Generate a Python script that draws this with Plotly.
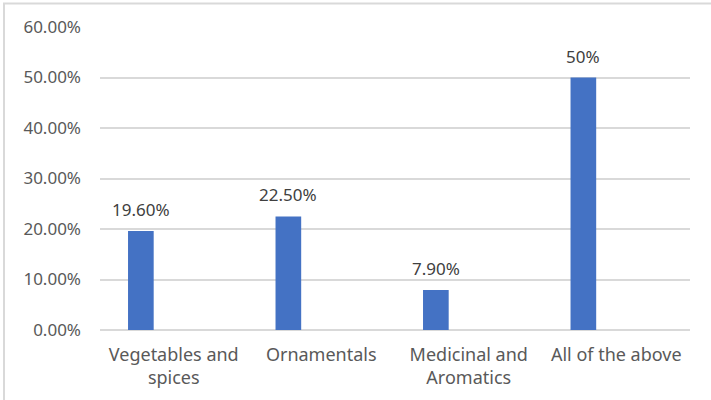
import plotly.graph_objects as go

# Share of respondents by crop category
categories = ["Vegetables and<br>spices", "Ornamentals", "Medicinal and<br>Aromatics", "All of the above"]
shares = [0.196, 0.225, 0.079, 0.50]
share_labels = ["19.60%", "22.50%", "7.90%", "50%"]
y_ticks = [0, 0.1, 0.2, 0.3, 0.4, 0.5, 0.6]

FONT = "Noto Sans"
BAR_COLOR = "#4472C4"
GRID = "#d9d9d9"

fig = go.Figure()
fig.add_trace(go.Bar(
    x=categories,
    y=shares,
    marker=dict(color=BAR_COLOR, line=dict(width=0)),
    width=0.174,
    offset=-0.31,
    hoverinfo="x+y",
))

# Value labels above each bar, shifted onto the bar centre
for cat, val, lab in zip(categories, shares, share_labels):
    fig.add_annotation(
        x=cat, y=val, text=lab, showarrow=False,
        xref="x", yref="y", xanchor="center", yanchor="bottom",
        xshift=-33, yshift=8,
        font=dict(family=FONT, size=17, color="#404040"),
    )

# Chart border (left/top edges visible)
fig.add_shape(
    type="rect", xref="paper", yref="paper",
    x0=-0.1627, x1=1.2, y0=-0.4, y1=1.0776,
    line=dict(color=GRID, width=2), fillcolor="rgba(0,0,0,0)", layer="below",
)

fig.update_layout(
    width=711, height=400,
    margin=dict(l=100, r=21, t=27, b=70),
    paper_bgcolor="white", plot_bgcolor="white",
    showlegend=False,
    font=dict(family=FONT, size=17, color="#595959"),
    xaxis=dict(
        type="category", showgrid=False, showline=False, ticks="",
        tickfont=dict(family=FONT, size=18, color="#595959"),
        ticklabelstandoff=12,
    ),
    yaxis=dict(
        range=[0, 0.6], tickvals=y_ticks, tickformat=".2%",
        showgrid=True, gridcolor=GRID, gridwidth=1.5,
        zeroline=True, zerolinecolor=GRID, zerolinewidth=1.5,
        showline=False, ticks="",
        tickfont=dict(family=FONT, size=17, color="#595959"),
        ticklabelstandoff=18,
    ),
)

fig.write_html("out.html")
